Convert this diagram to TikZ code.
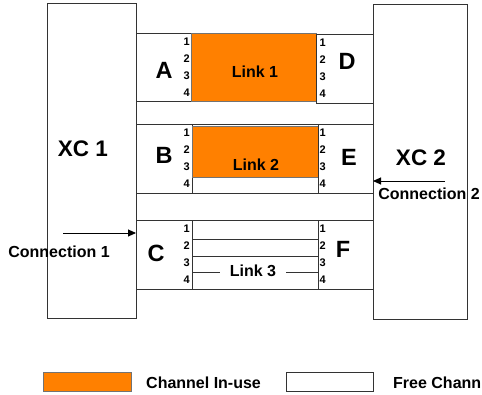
\documentclass[tikz,border=0pt]{standalone}
\usepackage{fontspec}
\setmainfont{Liberation Sans}
\usetikzlibrary{arrows.meta}
\definecolor{inuse}{HTML}{FF8000}
\definecolor{edge}{HTML}{333333}
\begin{document}
\begin{tikzpicture}[x=1pt,y=-1pt,
  box/.style={draw=edge, line width=0.8pt, fill=white, inner sep=0pt, outer sep=0pt, anchor=north west},
  used/.style={box, fill=inuse, draw=black!55},
  letter/.style={font=\bfseries\fontsize{23.5}{23.5}\selectfont, inner sep=0pt},
  xclabel/.style={font=\bfseries\fontsize{22.5}{22.5}\selectfont, inner sep=0pt},
  chnum/.style={font=\bfseries\fontsize{11}{11}\selectfont, inner sep=0pt},
  linklabel/.style={font=\bfseries\fontsize{16}{16}\selectfont, inner sep=0pt},
  conlabel/.style={font=\bfseries\fontsize{16}{16}\selectfont, inner sep=0pt},
  chline/.style={draw=edge, line width=0.8pt},
  conarrow/.style={draw=black, line width=0.9pt, -{Triangle[length=8pt,width=7pt]}}
]
\useasboundingbox (0,0) rectangle (482,394);

% cross-connects
\node[box, minimum width=89pt, minimum height=315pt] (xc1) at (47,3) {};
\node[box, minimum width=94pt, minimum height=315pt] (xc2) at (373,4) {};
\node[xclabel] (xc1lab) at (83,148.5) {XC 1};
\node[xclabel] (xc2lab) at (421,158) {XC 2};

% row A / D
\node[box, minimum width=55pt, minimum height=68pt] (A) at (136,33) {};
\node[used, minimum width=125pt, minimum height=68pt] (link1) at (191,33) {};
\node[box, minimum width=57pt, minimum height=69pt] (D) at (316,34) {};
\node[linklabel] (link1lab) at (255,72) {Link 1};
\node[letter] (Alab) at (164,70) {A};
\node[letter] (Dlab) at (347,61) {D};

% row B / E
\node[box, minimum width=56pt, minimum height=69pt] (B) at (136,124) {};
\node[box, minimum width=126pt, minimum height=69pt] (link2) at (192,124) {};
\node[used, minimum width=126pt, minimum height=51pt] (link2use) at (192,126) {};
\node[box, minimum width=55pt, minimum height=69pt] (E) at (318,124) {};
\node[linklabel] (link2lab) at (256,165) {Link 2};
\node[letter] (Blab) at (164,155) {B};
\node[letter] (Elab) at (349,157) {E};

% row C / F
\node[box, minimum width=56pt, minimum height=69pt] (C) at (136,220) {};
\node[box, minimum width=126pt, minimum height=69pt] (link3) at (192,220) {};
\node[box, minimum width=55pt, minimum height=69pt] (F) at (318,220) {};
\draw[chline] (link3.west |- 0,239) -- (link3.east |- 0,239);
\draw[chline] (link3.west |- 0,256) -- (link3.east |- 0,256);
\draw[chline] (link3.west |- 0,272) -- (link3.east |- 0,272);
\node[linklabel, fill=white, inner xsep=10pt, inner ysep=1pt] (link3lab) at (253,271) {Link 3};
\node[letter] (Clab) at (156,253) {C};
\node[letter] (Flab) at (343,249) {F};

% channel numbers
\foreach \r/\t in {A/33, B/124, C/220}{
  \foreach \k in {1,...,4}{
    \node[chnum, anchor=east] (n\r\k) at (190,{\t+8.8+17.1*(\k-1)}) {\k};
  }
}
\foreach \r/\t in {D/34, E/124, F/220}{
  \foreach \k in {1,...,4}{
    \node[chnum, anchor=west] (n\r\k) at (319.5,{\t+8.8+17.1*(\k-1)}) {\k};
  }
}

% connections
\coordinate (c1start) at (63,233);
\draw[conarrow] (c1start) -- (C.west |- c1start);
\node[conlabel] (con1lab) at (59,252) {Connection 1};
\coordinate (c2start) at (445,181);
\draw[conarrow] (c2start) -- (E.east |- c2start);
\node[conlabel] (con2lab) at (429,194) {Connection 2};

% legend
\node[used, minimum width=88pt, minimum height=19pt] (leguse) at (43,372) {};
\node[conlabel, anchor=west] (leguselab) at (146,383) {Channel In-use};
\node[box, minimum width=87pt, minimum height=19pt] (legfree) at (286,372) {};
\node[conlabel, anchor=west] (legfreelab) at (393,383) {Free Chann};
\end{tikzpicture}
\end{document}
